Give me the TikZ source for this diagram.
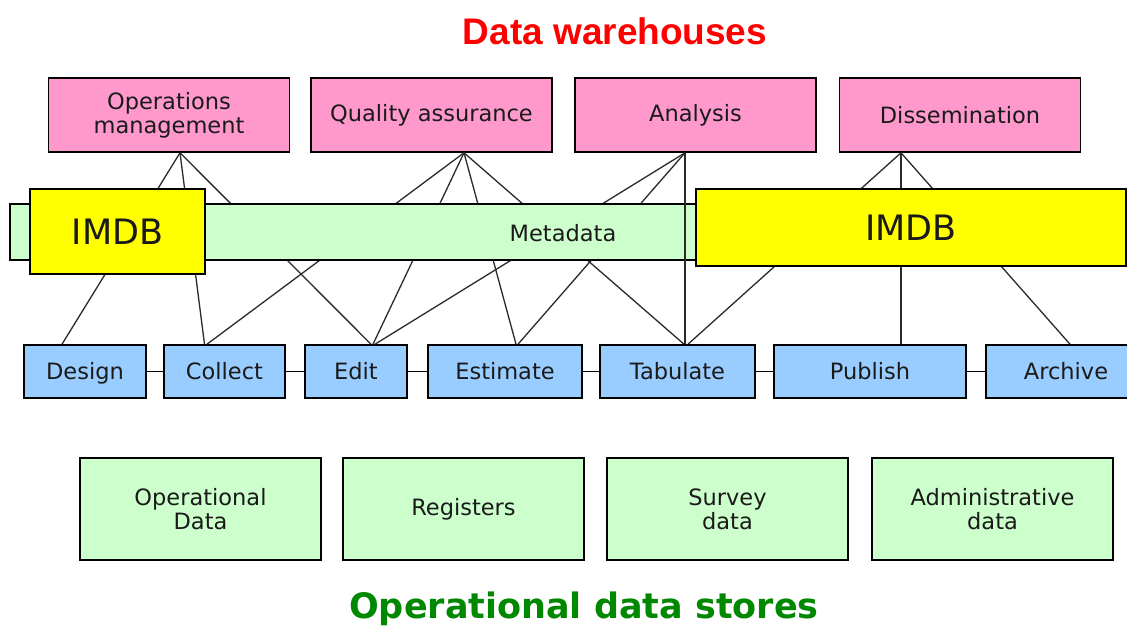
\documentclass[tikz,border=0pt]{standalone}
\usepackage{fontspec}
\setmainfont{DejaVu Sans}
\newfontfamily\arialfont{Liberation Sans}
\definecolor{pinkbox}{HTML}{FF99CC}
\definecolor{greenbox}{HTML}{CCFFCC}
\definecolor{yellowbox}{HTML}{FFFF00}
\definecolor{bluebox}{HTML}{99CCFF}
\definecolor{titlered}{HTML}{FF0000}
\definecolor{titlegreen}{HTML}{008800}
\definecolor{linegray}{HTML}{2A2A2A}
\definecolor{textdark}{HTML}{1A1A1A}
\begin{document}
\begin{tikzpicture}[x=1pt,y=-1pt,
  basebox/.style={draw=black, line width=1.6pt, rectangle, inner sep=0pt,
    text=textdark, font=\fontsize{22.5}{24}\selectfont},
  box/.style={basebox, align=center},
  topbox/.style={box, fill=pinkbox, minimum width=241pt, minimum height=74pt},
  procbox/.style={basebox, fill=bluebox, minimum height=53pt, text height=16pt, text depth=0pt},
  storebox/.style={box, fill=greenbox, minimum width=241pt, minimum height=102pt},
  imdbbox/.style={box, fill=yellowbox, font=\fontsize{35}{38}\selectfont},
  link/.style={draw=linegray, line width=1.3pt},
  chain/.style={draw=black, line width=1.6pt}]
\fill[white] (0,0) rectangle (1127,626);
\clip (0,0) rectangle (1127,626);

% titles
\node[font=\arialfont\bfseries\fontsize{37}{40}\selectfont, text=titlered] (dwtitle) at (615,31) {Data warehouses};
\node[font=\bfseries\fontsize{35}{38}\selectfont, text=titlegreen] (odstitle) at (584,609) {Operational data stores};

% top boxes
\node[topbox] (ops) at (169,115) {Operations\\management};
\node[topbox] (qa) at (431.5,115) {Quality assurance};
\node[topbox] (ana) at (695.5,115) {Analysis};
\node[topbox] (dis) at (960,115) {Dissemination};

% process boxes
\node[procbox, minimum width=122pt] (design) at (85,371.5) {Design};
\node[procbox, minimum width=121pt] (collect) at (224.5,371.5) {Collect};
\node[procbox, minimum width=102pt] (edit) at (356,371.5) {Edit};
\node[procbox, minimum width=154pt] (estimate) at (505,371.5) {Estimate};
\node[procbox, minimum width=155pt] (tabulate) at (677.5,371.5) {Tabulate};
\node[procbox, minimum width=192pt] (publish) at (870,371.5) {Publish};
\node[procbox, minimum width=160pt] (archive) at (1066,371.5) {Archive};

\draw[chain] (design.east) -- (collect.west);
\draw[chain] (collect.east) -- (edit.west);
\draw[chain] (edit.east) -- (estimate.west);
\draw[chain] (estimate.east) -- (tabulate.west);
\draw[chain] (tabulate.east) -- (publish.west);
\draw[chain] (publish.east) -- (archive.west);

% links (behind the bars)
\draw[link] ([xshift=11pt]ops.south) -- ([xshift=-23pt]design.north);
\draw[link] ([xshift=11pt]ops.south) -- ([xshift=-20pt]collect.north);
\draw[link] ([xshift=11pt]ops.south) -- ([xshift=15pt]edit.north);
\draw[link] ([xshift=32.5pt]qa.south) -- ([xshift=-17.5pt]collect.north);
\draw[link] ([xshift=32.5pt]qa.south) -- ([xshift=17pt]edit.north);
\draw[link] ([xshift=32.5pt]qa.south) -- ([xshift=11pt]estimate.north);
\draw[link] ([xshift=32.5pt]qa.south) -- ([xshift=6.5pt]tabulate.north);
\draw[link] ([xshift=-10.5pt]ana.south) -- ([xshift=19pt]edit.north);
\draw[link] ([xshift=-10.5pt]ana.south) -- ([xshift=13pt]estimate.north);
\draw[link] ([xshift=-59pt]dis.south) -- ([xshift=10.5pt]tabulate.north);
\draw[link] ([xshift=-59pt]dis.south) -- ([xshift=31pt]publish.north);
\draw[link] ([xshift=-59pt]dis.south) -- ([xshift=4pt]archive.north);

% metadata bar and IMDB boxes
\node[box, fill=greenbox, minimum width=690pt, minimum height=56pt] (meta) at (355,232) {};
\node[font=\fontsize{22.5}{24}\selectfont, text=textdark] (metatext) at (563,233) {Metadata};
\draw[link] ([xshift=-10.5pt]ana.south) -- ([xshift=7.5pt]tabulate.north);
\node[imdbbox, minimum width=175pt, minimum height=85pt] (imdbl) at (117.5,231.5) {IMDB};
\node[imdbbox, minimum width=430pt, minimum height=77pt] (imdbr) at (911,227.5) {IMDB};

% operational data stores
\node[storebox] (opdata) at (200.5,509) {Operational\\Data};
\node[storebox] (registers) at (463.5,509) {Registers};
\node[storebox] (survey) at (727.5,509) {Survey\\data};
\node[storebox] (admin) at (992.5,509) {Administrative\\data};
\end{tikzpicture}
\end{document}
